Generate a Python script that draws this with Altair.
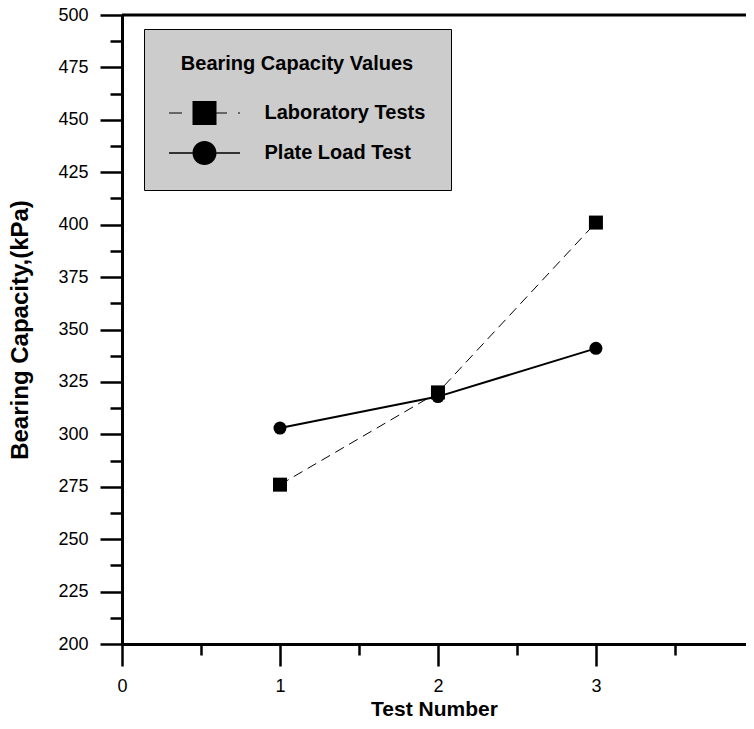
import altair as alt
import pandas as pd

# ---- data ----
test_number = [1, 2, 3]
laboratory_tests = [276, 320, 401]
plate_load_test = [303, 318, 341]
series_names = ["Laboratory Tests", "Plate Load Test"]

x_ticks = [0, 0.5, 1, 1.5, 2, 2.5, 3, 3.5, 4]
y_ticks = [200, 212.5, 225, 237.5, 250, 262.5, 275, 287.5, 300, 312.5, 325,
           337.5, 350, 362.5, 375, 387.5, 400, 412.5, 425, 437.5, 450, 462.5,
           475, 487.5, 500]
# the reference is cropped just before x = 4, so the visible x range ends a bit short of it
x_domain = [0, 3.95]
y_domain = [200, 500]

rows = []
for n, v in zip(test_number, laboratory_tests):
    rows.append({"test": n, "capacity": v, "series": series_names[0]})
for n, v in zip(test_number, plate_load_test):
    rows.append({"test": n, "capacity": v, "series": series_names[1]})
df = pd.DataFrame(rows)
top_df = pd.DataFrame({"capacity": [y_domain[1]]})

FONT = "Liberation Sans"

x_axis = alt.Axis(
    values=x_ticks,
    title="Test Number",
    labelExpr="datum.value % 1 === 0 ? format(datum.value, 'd') : ''",
    tickSize={"condition": {"test": "datum.value % 1 === 0", "value": 22}, "value": 11},
    tickWidth=2.5, tickColor="black",
    domainWidth=3, domainColor="black",
    labelFontSize=18, labelFont=FONT, labelColor="black",
    labelPadding=11, labelFlush=False, labelOverlap=False, labelBound=False,
    titleFontSize=21, titleFont=FONT, titleFontWeight="bold", titleColor="black",
    titleBaseline="alphabetic", titleY=71, grid=False,
)
y_axis = alt.Axis(
    values=y_ticks,
    title="Bearing Capacity,(kPa)",
    labelExpr="datum.value % 25 === 0 ? format(datum.value, 'd') : ''",
    tickSize={"condition": {"test": "datum.value % 25 === 0", "value": 22}, "value": 12},
    tickWidth=2.5, tickColor="black",
    domainWidth=3, domainColor="black",
    labelFontSize=18, labelFont=FONT, labelColor="black",
    labelPadding=12, labelFlush=False, labelOverlap=False, labelBound=False,
    titleFontSize=24, titleFont=FONT, titleFontWeight="bold", titleColor="black",
    titlePadding=25, grid=False,
)

X = alt.X("test:Q", scale=alt.Scale(domain=x_domain, nice=False, zero=False), axis=x_axis)
Y = alt.Y("capacity:Q", scale=alt.Scale(domain=y_domain, nice=False, zero=False), axis=y_axis)

base = alt.Chart(df)
lab = base.transform_filter(alt.datum.series == series_names[0])
plate = base.transform_filter(alt.datum.series == series_names[1])

lab_line = lab.mark_line(color="black", strokeWidth=1, strokeDash=[10, 6]).encode(x=X, y=Y)
plate_line = plate.mark_line(color="black", strokeWidth=2).encode(x=X, y=Y)
squares = lab.mark_square(color="black", size=196, opacity=1).encode(x=X, y=Y)
circles = plate.mark_circle(color="black", size=169, opacity=1).encode(x=X, y=Y)

# legend symbols: marker with its line pattern on either side
lab_symbol = ("M-1,-1H1V1H-1Z "
              "M-2.96,-0.042H-1.875V0.042H-2.96Z "
              "M1,-0.042H1.875V0.042H1Z "
              "M2.79,-0.042H2.96V0.042H2.79Z")
plate_symbol = ("M-1,0A1,1 0 1,1 1,0A1,1 0 1,1 -1,0Z "
                "M-2.96,-0.065H-1V0.065H-2.96Z "
                "M1,-0.065H2.96V0.065H1Z")

# legend-only layer: no rows survive the filter, the legend comes from the scale domain
legend_layer = base.transform_calculate(entry="datum.series").transform_filter(
    "datum.test < 0"
).mark_point(filled=True, color="black", size=576).encode(
    x=X, y=Y,
    shape=alt.Shape(
        "entry:N",
        scale=alt.Scale(domain=series_names, range=[lab_symbol, plate_symbol]),
        legend=alt.Legend(
            title="Bearing Capacity Values",
            orient="none", legendX=22, legendY=14, direction="vertical",
            fillColor="#cccccc", strokeColor="black", padding=25,
            titleFont=FONT, titleFontSize=20, titleFontWeight="bold", titleColor="black",
            titleAnchor="middle", titlePadding=27, titleLimit=400,
            labelFont=FONT, labelFontSize=20, labelFontWeight="bold", labelColor="black",
            labelLimit=400, labelOffset=48,
            symbolSize=576, symbolOffset=23.5, symbolStrokeWidth=0,
            symbolFillColor="black", symbolOpacity=1, rowPadding=16,
        ),
    ),
)

top_border = alt.Chart(top_df).mark_rule(color="black", strokeWidth=3).encode(y=Y)

chart = alt.layer(lab_line, plate_line, squares, circles, legend_layer, top_border).properties(
    width=624, height=629,
    autosize=alt.AutoSizeParams(type="none"),
    padding={"left": 114, "top": 7, "right": 0, "bottom": 72},
).configure_view(stroke="transparent").configure(font=FONT)

chart.save("out.html", embed_options={"renderer": "svg", "actions": False})
